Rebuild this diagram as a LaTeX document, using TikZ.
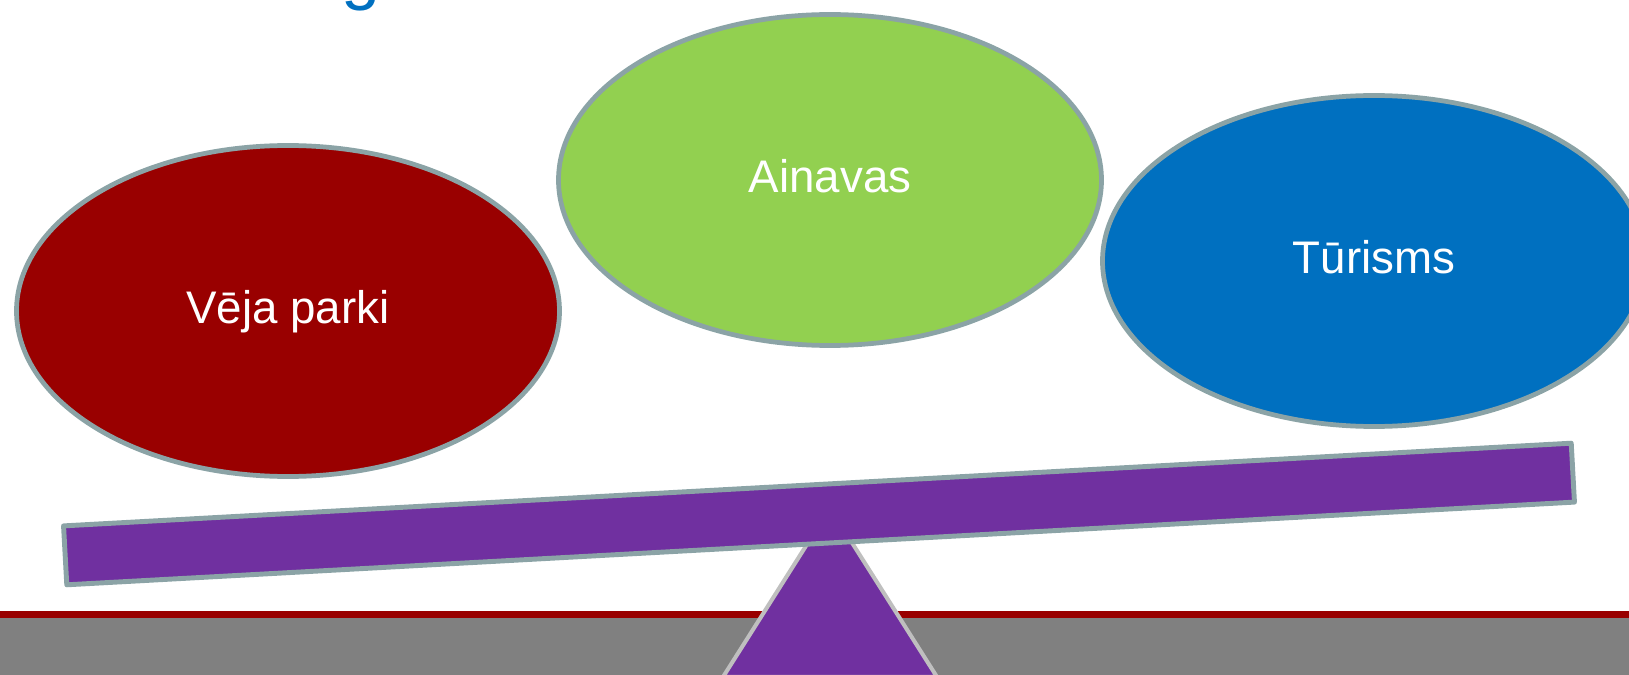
\documentclass[tikz,border=0pt]{standalone}
\usepackage{fontspec}
\setmainfont{Liberation Sans}
\usetikzlibrary{shapes.geometric}
\definecolor{rim}{HTML}{8BA3A6}
\definecolor{darkred}{HTML}{990000}
\definecolor{leaf}{HTML}{92D050}
\definecolor{sea}{HTML}{0070C0}
\definecolor{plum}{HTML}{7030A0}
\definecolor{pale}{HTML}{BFBFBF}
\tikzset{
    every node/.style={text=white, font=\fontsize{13}{15}\selectfont}
}
\tikzset{
    bubble/.style={ellipse, draw=rim, line width=1.35pt, inner sep=0pt,
    	minimum width=5.43cm, minimum height=3.31cm,
    	text height=0.72em, text depth=0pt}
}
\tikzset{
    board/.style={draw=rim, fill=plum, line width=1.4pt, line join=round,
    	inner sep=0pt, minimum width=15.1cm, minimum height=0.59cm}
}

\begin{document}
\begin{tikzpicture}[x=0.1mm, y=-0.1mm]
	\useasboundingbox (0,0) rectangle (1629,675);
	\clip (0,0) rectangle (1629,675);
	
	% ground
	\fill[darkred] (0,611) rectangle (1629,618);
	\fill[gray] (0,618) rectangle (1629,675);
	
	\node (title) [anchor=base, text=sea, font=\fontsize{20}{24}\selectfont] at (361,-3) {g};
	
	\node (vejaparki) [bubble, fill=darkred] at (288,311) {Vēja parki};
	\node (ainavas) [bubble, fill=leaf] at (830,180) {Ainavas};
	\node (turisms) [bubble, fill=sea] at (1374,261) {Tūrisms};
	
	% pivot and plank
	\draw[pale, fill=plum, line width=1.15pt, line join=round]
		(830,508) -- (723,677) -- (937,677) -- cycle;
	\node (plank) [board, rotate=3.14] at (819,514) {};
\end{tikzpicture}
\end{document}
